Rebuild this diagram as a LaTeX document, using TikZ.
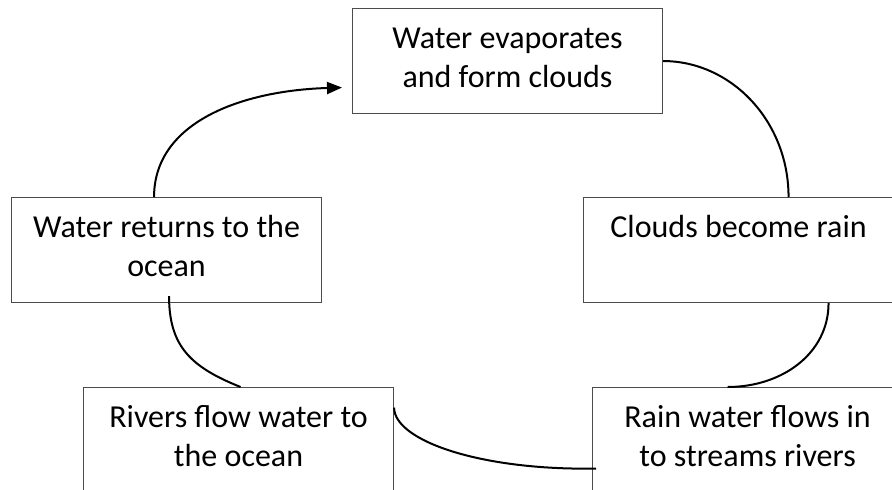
\documentclass[tikz,border=0pt]{standalone}
\usepackage{fontspec}
\setmainfont{Carlito}
\usetikzlibrary{arrows.meta,calc}
\begin{document}
\begin{tikzpicture}[x=1pt,y=-1pt,
  stagebox/.style={draw=black!70, line width=1.1pt, minimum width=310pt,
    minimum height=105pt, inner sep=0pt, anchor=north west},
  stagetext/.style={font=\fontsize{32}{39}\selectfont, align=center,
    inner sep=0pt, anchor=base},
  flow/.style={line width=2pt, black},
  flowarrow/.style={flow, -{Triangle[length=15pt,width=12pt]}}]
\useasboundingbox (0,0) rectangle (892,490);
\clip (0,0) rectangle (892,490);

% stage boxes
\node[stagebox] (evap)   at (352,8)   {};
\node[stagebox] (clouds) at (583,197) {};
\node[stagebox] (ret)    at (11,197)  {};
\node[stagebox] (rivers) at (83,387)  {};
\node[stagebox] (rain)   at (592,387) {};

% stage texts (anchored on the baseline of their last line)
\node[stagetext] (evapT)   at ($(evap.north)+(0,79)$)   {Water evaporates\\and form clouds};
\node[stagetext] (cloudsT) at ($(clouds.north)+(0,40)$) {Clouds become rain};
\node[stagetext] (retT)    at ($(ret.north)+(0,79)$)    {Water returns to the\\ocean};
\node[stagetext] (riversT) at ($(rivers.north)+(0,79)$) {Rivers flow water to\\the ocean};
\node[stagetext] (rainT)   at ($(rain.north)+(0,79)$)   {Rain water flows in\\to streams rivers};

% cycle connectors
\draw[flowarrow] ($(ret.north)+(-12.5,0)$) .. controls +(0,-75) and +(-100,3) .. ($(evap.west)+(-10,26.5)$);
\draw[flow] (evap.east) .. controls +(68,0) and +(0,-76) .. ($(clouds.north)+(50,0)$);
\draw[flow] ($(clouds.south)+(90,0)$) .. controls +(0,50) and +(55,0) .. ($(rain.north)+(-20,0)$);
\draw[flow] ($(rivers.east)+(0,-32.5)$) .. controls +(0,33) and +(-116,2) .. ($(rain.west)+(4,28.5)$);
\draw[flow] ($(rivers.north)+(2,0)$) .. controls +(-50,-20) and +(0,50) .. ($(ret.south)+(2.5,-7)$);
\end{tikzpicture}
\end{document}
